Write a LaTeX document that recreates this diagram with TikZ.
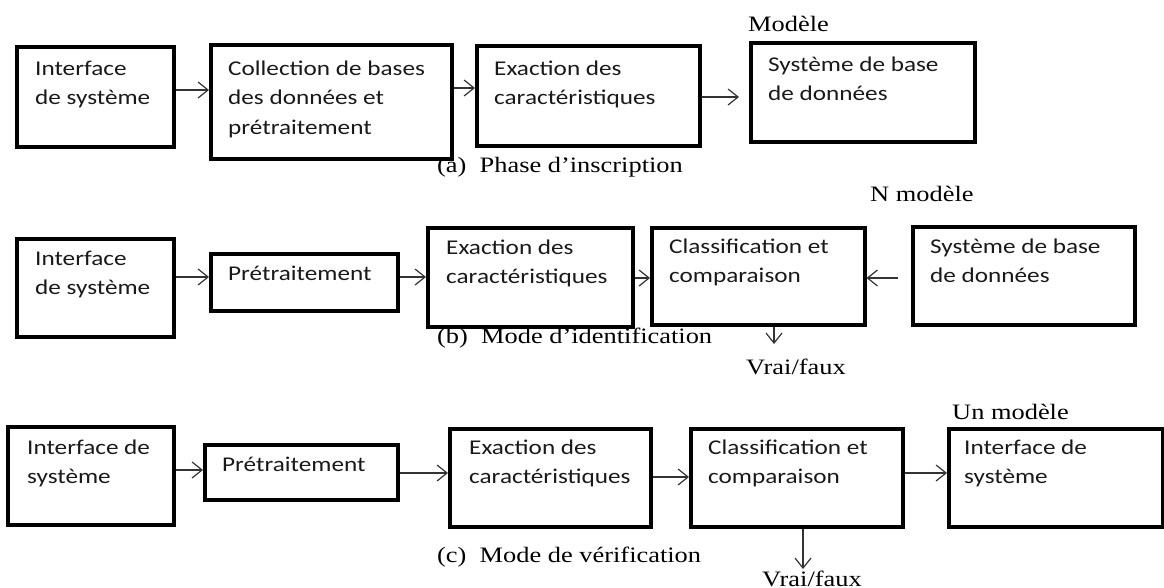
\documentclass[tikz,border=0pt]{standalone}
\usepackage{fontspec}
\setmainfont{Liberation Serif}[FakeStretch=1.2]
\setsansfont{Carlito}[FakeStretch=1.2]
\usetikzlibrary{arrows.meta}
\tikzset{
  box/.style={draw=black, line width=3.5pt, rectangle, inner sep=0pt},
  txt/.style={anchor=north west, inner sep=0pt, align=left, font=\sffamily\fontsize{21}{29.5}\selectfont, text=black!90},
  lbl/.style={anchor=base west, inner sep=0pt, font=\rmfamily\fontsize{22}{26}\selectfont},
  arr/.style={draw=black!80, line width=1.2pt, -{Straight Barb[length=10pt,width=16pt,line width=1.2pt]}},
}
\newcommand\mybox[5]{\node[box, minimum width={(#4-#2)*1pt}, minimum height={(#5-#3)*1pt}, anchor=north west] (#1) at (#2,#3) {};}
\newcommand\mytxt[4]{\node[txt] (#1) at (#2,{#3-19}) {\rule{0pt}{19pt}#4};}
\begin{document}
\begin{tikzpicture}[x=1pt,y=-1pt]
\useasboundingbox (0,0) rectangle (1164,587);
% Row a
\mybox{a1}{15}{45}{172}{145}
\mybox{a2}{209}{43}{450}{157}
\mybox{a3}{475}{44}{698}{144}
\mybox{a4}{749}{41}{973}{140}
\mytxt{ta1}{35}{75}{Interface\\de système}
\mytxt{ta2}{228}{75}{Collection de bases\\des données et\\prétraitement}
\mytxt{ta3}{494}{75}{Exaction des\\caractéristiques}
\mytxt{ta4}{768}{71}{Système de base\\de données}
\node[lbl] (la4) at (748,31) {Modèle};
\node[lbl] (capa) at (437,172) {(a)\ \ Phase d’inscription};
\draw[arr] (a1.east |- 0,90) -- (a2.west |- 0,90);
\draw[arr] (a2.east |- 0,88) -- (a3.west |- 0,88);
\draw[arr] (a3.east |- 0,97) -- ([xshift=-10pt]a4.west |- 0,97);
% Row b
\mybox{b1}{15}{237}{172}{335}
\mybox{b2}{209}{252}{396}{309}
\mybox{b3}{426}{226}{631}{325}
\mybox{b4}{650}{226}{863}{323}
\mybox{b5}{911}{225}{1133}{323}
\mytxt{tb1}{35}{265}{Interface\\de système}
\mytxt{tb2}{228}{280}{Prétraitement}
\mytxt{tb3}{446}{254}{Exaction des\\caractéristiques}
\mytxt{tb4}{669}{253}{Classification et\\comparaison}
\mytxt{tb5}{930}{253}{Système de base\\de données}
\node[lbl] (lb5) at (870,201) {N modèle};
\node[lbl] (capb) at (437,343) {(b)\ \ Mode d’identification};
\node[lbl] (vfb) at (746,374) {Vrai/faux};
\coordinate (bv) at (774,344);
\draw[arr] (b1.east |- 0,277) -- (b2.west |- 0,277);
\draw[arr] (b2.east |- 0,277) -- (b3.west |- 0,277);
\draw[arr] (b3.east |- 0,278) -- (b4.west |- 0,278);
\draw[arr] ([xshift=-13pt]b5.west |- 0,278) -- (b4.east |- 0,278);
\draw[arr] (b4.south -| bv) -- (bv);
% Row c
\mybox{c1}{6}{425}{172}{523}
\mybox{c2}{203}{443}{396}{498}
\mybox{c3}{448}{427}{649}{525}
\mybox{c4}{689}{427}{901}{525}
\mybox{c5}{947}{427}{1161}{525}
\mytxt{tc1}{27}{454}{Interface de\\système}
\mytxt{tc2}{222}{471}{Prétraitement}
\mytxt{tc3}{469}{454}{Exaction des\\caractéristiques}
\mytxt{tc4}{708}{454}{Classification et\\comparaison}
\mytxt{tc5}{964}{454}{Interface de\\système}
\node[lbl] (lc5) at (952,419) {Un modèle};
\node[lbl] (capc) at (437,562) {(c)\ \ Mode de vérification};
\node[lbl] (vfc) at (762,586) {Vrai/faux};
\coordinate (cv) at (803,569);
\draw[arr] (c1.east |- 0,470) -- (c2.west |- 0,470);
\draw[arr] (c2.east |- 0,473) -- (c3.west |- 0,473);
\draw[arr] (c3.east |- 0,477) -- (c4.west |- 0,477);
\draw[arr] (c4.east |- 0,473) -- (c5.west |- 0,473);
\draw[arr] (c4.south -| cv) -- (cv);
\end{tikzpicture}
\end{document}
